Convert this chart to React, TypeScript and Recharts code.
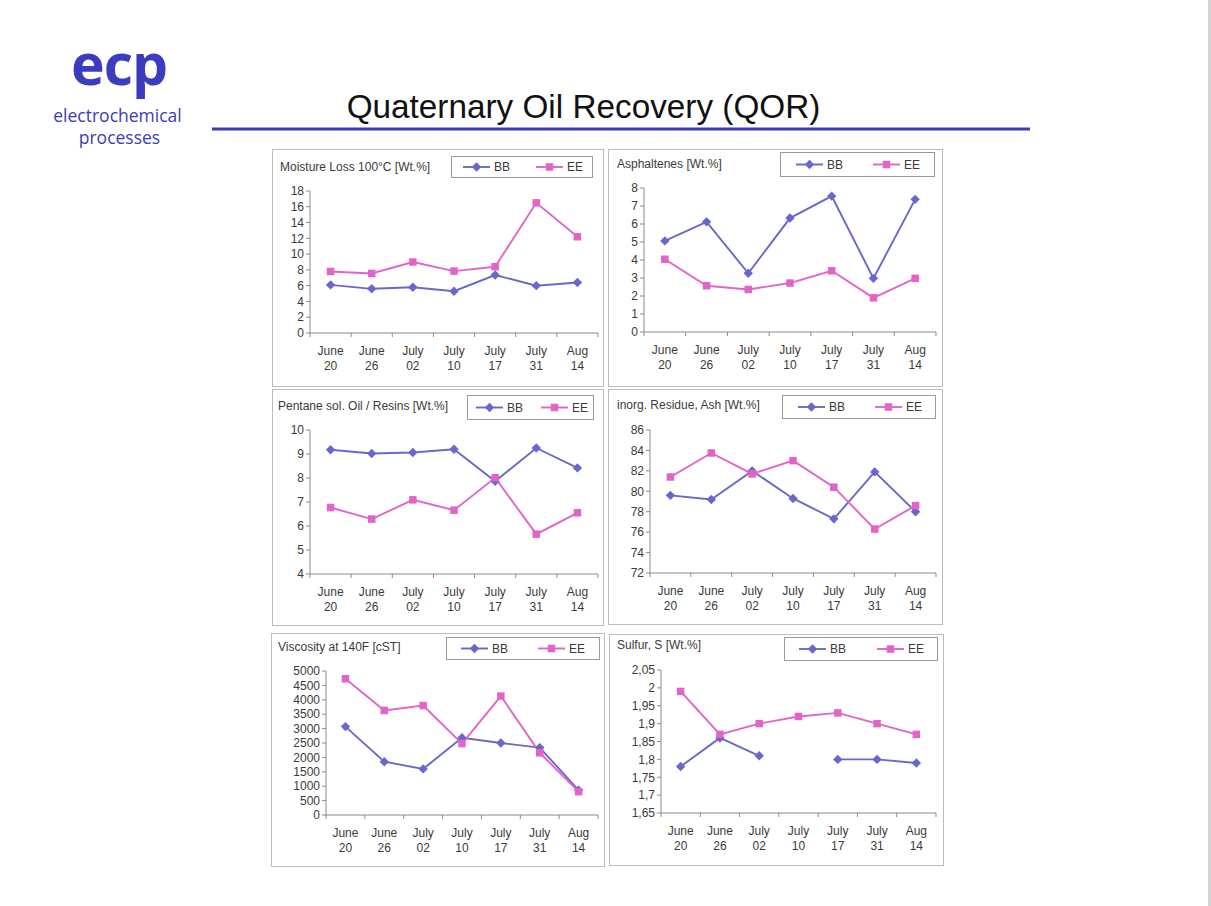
import React from "react";
import { LineChart, Line, XAxis, YAxis } from "recharts";

// ---------- data ----------
const categories = ["June 20", "June 26", "July 02", "July 10", "July 17", "July 31", "Aug 14"];

const moistureBB = [6.1, 5.6, 5.8, 5.3, 7.35, 6.0, 6.4];
const moistureEE = [7.8, 7.55, 9.0, 7.85, 8.4, 16.5, 12.2];
const moistureTicks = [0, 2, 4, 6, 8, 10, 12, 14, 16, 18];

const asphBB = [5.06, 6.12, 3.26, 6.33, 7.55, 2.98, 7.37];
const asphEE = [4.04, 2.57, 2.36, 2.72, 3.4, 1.9, 2.98];
const asphTicks = [0, 1, 2, 3, 4, 5, 6, 7, 8];

const pentBB = [9.18, 9.02, 9.06, 9.2, 7.86, 9.25, 8.42];
const pentEE = [6.77, 6.29, 7.09, 6.66, 8.01, 5.66, 6.55];
const pentTicks = [4, 5, 6, 7, 8, 9, 10];

const ashBB = [79.6, 79.2, 82.0, 79.3, 77.3, 81.9, 78.0];
const ashEE = [81.4, 83.75, 81.7, 83.0, 80.4, 76.3, 78.6];
const ashTicks = [72, 74, 76, 78, 80, 82, 84, 86];

const viscBB = [3070, 1850, 1600, 2680, 2500, 2340, 860];
const viscEE = [4730, 3630, 3800, 2480, 4130, 2160, 810];
const viscTicks = [0, 500, 1000, 1500, 2000, 2500, 3000, 3500, 4000, 4500, 5000];

const sulfurBB = [1.78, 1.86, 1.81, null, 1.8, 1.8, 1.79];
const sulfurEE = [1.99, 1.87, 1.9, 1.92, 1.93, 1.9, 1.87];
const sulfurTicks = [1.65, 1.7, 1.75, 1.8, 1.85, 1.9, 1.95, 2, 2.05];

const seriesNames = ["BB", "EE"];

// ---------- styles ----------
const BB_COLOR = "#6868cc";
const EE_COLOR = "#e264c8";
const AXIS_COLOR = "#8a8a8a";
const TEXT_COLOR = "#3a3a3a";
const FONT = "'Liberation Sans', Arial, sans-serif";
const LOGO_FONT = "'Open Sans', 'Noto Sans', sans-serif";
const XH = 40;
const LW = 1.9;

type Layout = {
  left: number; top: number; w: number; h: number;
  pl: number; pt: number; pb: number; pr: number; yw: number;
  lx: number; ly: number; lw: number; lh: number; lbb: number; lee: number;
  tx: number; ty: number;
};

const layouts: Layout[] = [
  { left: 272, top: 149, w: 332, h: 238, pl: 38, pt: 42, pb: 184, pr: 6, yw: 30, lx: 179, ly: 7, lw: 142, lh: 22, lbb: 12, lee: 85, tx: 8, ty: 22 },
  { left: 608, top: 149, w: 335, h: 238, pl: 36, pt: 39, pb: 183, pr: 7, yw: 26, lx: 172, ly: 3, lw: 155, lh: 25, lbb: 16, lee: 93, tx: 9, ty: 19 },
  { left: 272, top: 389, w: 332, h: 237, pl: 38, pt: 41, pb: 185, pr: 6, yw: 30, lx: 195, ly: 6, lw: 127, lh: 25, lbb: 9, lee: 74, tx: 6, ty: 21 },
  { left: 608, top: 389, w: 335, h: 236, pl: 42, pt: 41, pb: 184, pr: 7, yw: 30, lx: 174, ly: 6, lw: 154, lh: 24, lbb: 16, lee: 93, tx: 9, ty: 20 },
  { left: 271, top: 633, w: 334, h: 234, pl: 55, pt: 38, pb: 182, pr: 7, yw: 45, lx: 175, ly: 4, lw: 154, lh: 23, lbb: 15, lee: 92, tx: 7, ty: 18 },
  { left: 609, top: 634, w: 335, h: 232, pl: 52, pt: 36, pb: 179, pr: 8, yw: 40, lx: 175, ly: 3, lw: 154, lh: 24, lbb: 15, lee: 93, tx: 8, ty: 15 },
];

const Diamond = (props: any) => {
  const { cx, cy } = props;
  if (cx == null || cy == null) return <g />;
  const r = 4.7;
  return <polygon points={`${cx},${cy - r} ${cx + r},${cy} ${cx},${cy + r} ${cx - r},${cy}`} fill={BB_COLOR} />;
};

const Square = (props: any) => {
  const { cx, cy } = props;
  if (cx == null || cy == null) return <g />;
  const s = 7.5;
  return <rect x={cx - s / 2} y={cy - s / 2} width={s} height={s} fill={EE_COLOR} />;
};

const makeXTick = (bw: number) => (props: any) => {
  const { x, y, payload, index } = props;
  const parts = String(payload.value).split(" ");
  return (
    <g>
      <line x1={x - bw / 2} x2={x - bw / 2} y1={y} y2={y + 4} stroke={AXIS_COLOR} />
      {index === categories.length - 1 && (
        <line x1={x + bw / 2} x2={x + bw / 2} y1={y} y2={y + 4} stroke={AXIS_COLOR} />
      )}
      <text x={x} y={y + 22} textAnchor="middle" fontSize={12} fill={TEXT_COLOR} fontFamily={FONT}>{parts[0]}</text>
      <text x={x} y={y + 37} textAnchor="middle" fontSize={12} fill={TEXT_COLOR} fontFamily={FONT}>{parts[1]}</text>
    </g>
  );
};

const LegendBox = ({ L }: { L: Layout }) => {
  const cy = L.lh / 2;
  const item = (x0: number, name: string, color: string, square: boolean) => (
    <g>
      <line x1={x0} x2={x0 + 27} y1={cy} y2={cy} stroke={color} strokeWidth={LW} />
      {square ? (
        <rect x={x0 + 13.5 - 3.75} y={cy - 3.75} width={7.5} height={7.5} fill={color} />
      ) : (
        <polygon points={`${x0 + 13.5},${cy - 4.7} ${x0 + 18.2},${cy} ${x0 + 13.5},${cy + 4.7} ${x0 + 8.8},${cy}`} fill={color} />
      )}
      <text x={x0 + 31} y={cy + 4.3} fontSize={12} fill={TEXT_COLOR} fontFamily={FONT}>{name}</text>
    </g>
  );
  return (
    <div style={{ position: "absolute", left: L.lx, top: L.ly, width: L.lw, height: L.lh, boxSizing: "border-box", border: "1px solid #9a9a9a", background: "#fff" }}>
      <svg width={L.lw - 2} height={L.lh - 2} style={{ position: "absolute", left: 0, top: 0, overflow: "visible" }}>
        <g transform="translate(-1,-1)">
          {item(L.lbb, seriesNames[0], BB_COLOR, false)}
          {item(L.lee, seriesNames[1], EE_COLOR, true)}
        </g>
      </svg>
    </div>
  );
};

const fmtComma = (v: number) => String(v).replace(".", ",");

const Panel = ({ L, title, bb, ee, ticks, fmt }: { L: Layout; title: string; bb: (number | null)[]; ee: number[]; ticks: number[]; fmt?: (v: number) => string }) => {
  const data = categories.map((c, i) => ({ cat: c, BB: bb[i], EE: ee[i] }));
  const bw = (L.w - L.pr - L.pl) / categories.length;
  const margin = { top: L.pt, right: L.pr, left: L.pl - L.yw, bottom: L.h - L.pb - XH };
  return (
    <div style={{ position: "absolute", left: L.left, top: L.top, width: L.w, height: L.h, background: "#fff", boxShadow: "inset 0 0 0 1px #bdbdbd" }}>
      <div style={{ position: "absolute", left: 0, top: 0 }}>
        <LineChart width={L.w} height={L.h} data={data} margin={margin}>
          <XAxis
            dataKey="cat"
            scale="band"
            interval={0}
            axisLine={{ stroke: AXIS_COLOR }}
            tickLine={false}
            tickSize={0}
            tickMargin={0}
            height={XH}
            tick={makeXTick(bw)}
          />
          <YAxis
            type="number"
            domain={[ticks[0], ticks[ticks.length - 1]]}
            ticks={ticks}
            interval={0}
            width={L.yw}
            axisLine={{ stroke: AXIS_COLOR }}
            tickLine={{ stroke: AXIS_COLOR }}
            tickSize={4}
            tickMargin={2}
            tick={{ fontSize: 12, fill: TEXT_COLOR, fontFamily: FONT }}
            tickFormatter={fmt}
          />
          <Line dataKey="BB" stroke={BB_COLOR} strokeWidth={LW} dot={Diamond} activeDot={false} isAnimationActive={false} connectNulls={false} />
          <Line dataKey="EE" stroke={EE_COLOR} strokeWidth={LW} dot={Square} activeDot={false} isAnimationActive={false} />
        </LineChart>
      </div>
      <svg width={L.w} height={30} style={{ position: "absolute", left: 0, top: 0 }}>
        <text x={L.tx} y={L.ty} fontSize={12} fill={TEXT_COLOR} fontFamily={FONT}>{title}</text>
      </svg>
      <LegendBox L={L} />
    </div>
  );
};

export default function App() {
  return (
    <div style={{ position: "absolute", left: 0, top: 0, width: 1211, height: 906, background: "#fff", overflow: "hidden" }}>
      <svg width={1211} height={160} style={{ position: "absolute", left: 0, top: 0 }}>
        <text x={119} y={85} textAnchor="middle" fontSize={57} fontWeight="bold" fill="#3c3cc0" fontFamily={LOGO_FONT} letterSpacing={-1}>ecp</text>
        <text x={117.5} y={121.5} textAnchor="middle" fontSize={17.5} fill="#3c3cb8" fontFamily={LOGO_FONT}>electrochemical</text>
        <text x={119.5} y={143.5} textAnchor="middle" fontSize={17.5} fill="#3c3cb8" fontFamily={LOGO_FONT}>processes</text>
        <text x={583.5} y={118} textAnchor="middle" fontSize={33.3} fill="#111" fontFamily={FONT}>Quaternary Oil Recovery (QOR)</text>
        <rect x={212} y={127.5} width={818} height={3} fill="#3c3cbb" />
      </svg>
      <div style={{ position: "absolute", left: 1208, top: 0, width: 3, height: 906, background: "#d4d4d4" }} />
      <Panel L={layouts[0]} title="Moisture Loss 100°C [Wt.%]" bb={moistureBB} ee={moistureEE} ticks={moistureTicks} />
      <Panel L={layouts[1]} title="Asphaltenes [Wt.%]" bb={asphBB} ee={asphEE} ticks={asphTicks} />
      <Panel L={layouts[2]} title="Pentane sol. Oil / Resins [Wt.%]" bb={pentBB} ee={pentEE} ticks={pentTicks} />
      <Panel L={layouts[3]} title="inorg. Residue, Ash [Wt.%]" bb={ashBB} ee={ashEE} ticks={ashTicks} />
      <Panel L={layouts[4]} title="Viscosity at 140F [cST]" bb={viscBB} ee={viscEE} ticks={viscTicks} />
      <Panel L={layouts[5]} title="Sulfur, S [Wt.%]" bb={sulfurBB} ee={sulfurEE} ticks={sulfurTicks} fmt={fmtComma} />
    </div>
  );
}
